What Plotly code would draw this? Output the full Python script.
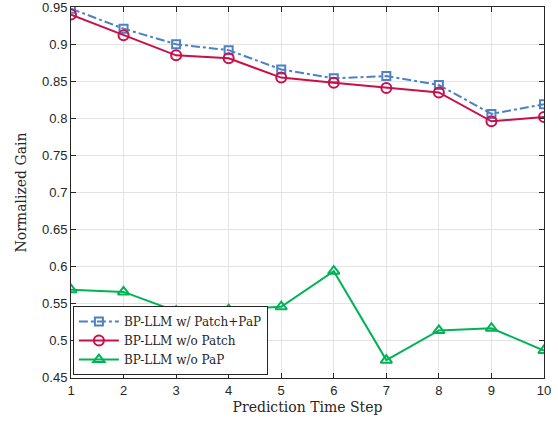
import plotly.graph_objects as go

steps = [1, 2, 3, 4, 5, 6, 7, 8, 9, 10]
full = [0.948, 0.921, 0.900, 0.892, 0.866, 0.854, 0.857, 0.845, 0.806, 0.819]
no_patch = [0.940, 0.912, 0.885, 0.881, 0.855, 0.848, 0.841, 0.835, 0.796, 0.802]
no_pap = [0.569, 0.566, 0.540, 0.542, 0.546, 0.594, 0.474, 0.514, 0.517, 0.487]
names = ["BP-LLM w/ Patch+PaP", "BP-LLM w/o Patch", "BP-LLM w/o PaP"]
yticks = [0.45, 0.5, 0.55, 0.6, 0.65, 0.7, 0.75, 0.8, 0.85, 0.9, 0.95]

fig = go.Figure()
fig.add_trace(go.Scatter(x=steps, y=full, name=names[0], mode="lines+markers",
                         line=dict(color="#4d80c4", width=2, dash="dashdot"),
                         marker=dict(symbol="square-open", size=8, color="#4d80c4", line=dict(width=2))))
fig.add_trace(go.Scatter(x=steps, y=no_patch, name=names[1], mode="lines+markers",
                         line=dict(color="#c8104a", width=2),
                         marker=dict(symbol="circle-open", size=10, color="#c8104a", line=dict(width=2))))
fig.add_trace(go.Scatter(x=steps, y=no_pap, name=names[2], mode="lines+markers",
                         line=dict(color="#00b356", width=2),
                         marker=dict(symbol="triangle-up-open", size=10, color="#00b356", line=dict(width=2))))

axis_common = dict(showline=True, linecolor="#262626", linewidth=1, mirror="ticks",
                   ticks="inside", ticklen=5, tickcolor="#262626",
                   showgrid=True, gridcolor="#e3e3e3", gridwidth=1, zeroline=False,
                   ticklabeloverflow="allow", automargin=False,
                   tickfont=dict(family="Liberation Sans, Arial", size=13, color="#262626"))

fig.update_layout(
    width=558, height=425,
    margin=dict(l=71, r=14, t=7, b=47, autoexpand=False),
    paper_bgcolor="white", plot_bgcolor="white",
    xaxis=dict(range=[1, 10.0001], tickvals=steps, **axis_common,
               title=dict(text="Prediction Time Step", standoff=5,
                          font=dict(family="DejaVu Serif", size=14, color="#262626"))),
    yaxis=dict(range=[0.4499, 0.9502], tickvals=yticks, ticktext=[f"{v:g}" for v in yticks], **axis_common,
               title=dict(text="Normalized Gain", standoff=12,
                          font=dict(family="DejaVu Serif", size=14, color="#262626"))),
    legend=dict(x=0.004, y=0.008, xanchor="left", yanchor="bottom",
                bgcolor="white", bordercolor="#262626", borderwidth=1,
                font=dict(family="DejaVu Serif", size=12, color="#262626"),
                tracegroupgap=0, itemwidth=40),
    showlegend=True,
)

fig.write_html("out.html")
